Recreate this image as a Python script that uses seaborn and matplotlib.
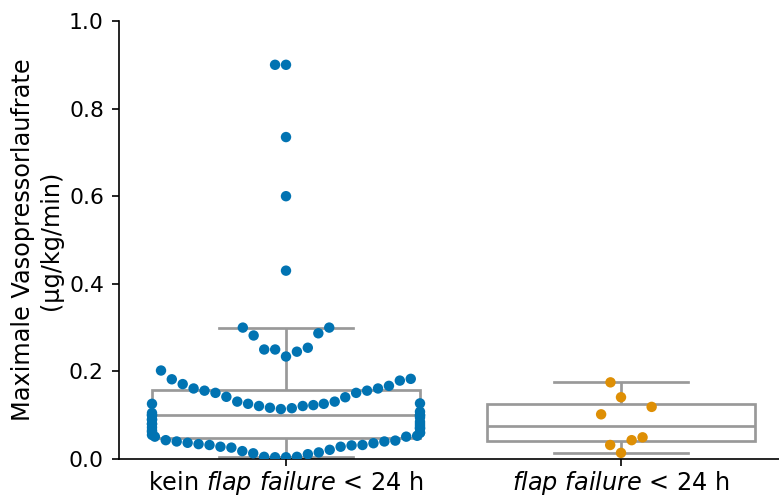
import numpy as np
import pandas as pd
import matplotlib
matplotlib.use("Agg")
import matplotlib.pyplot as plt
import seaborn as sns

# ==================================
# Data
# ==================================
groups = ["kein", "ja"]
tick_labels = [r"kein $\mathit{flap\ failure}$ < 24 h", r"$\mathit{flap\ failure}$ < 24 h"]

# max. vasopressor rate (µg/kg/min), no flap failure within 24 h
rate_no_failure = [
    0.004, 0.004, 0.005, 0.005, 0.011, 0.013, 0.015, 0.018, 0.021, 0.026,
    0.028, 0.028, 0.031, 0.032, 0.032, 0.034, 0.036, 0.037, 0.040, 0.040,
    0.042, 0.043, 0.051, 0.051, 0.053,
    0.055, 0.06, 0.06, 0.062, 0.065, 0.07, 0.07, 0.072, 0.075, 0.08, 0.08,
    0.08, 0.085, 0.09, 0.09, 0.095, 0.1, 0.1, 0.1, 0.1, 0.105, 0.108,
    0.114, 0.116, 0.117, 0.121, 0.121, 0.123, 0.126, 0.126, 0.126, 0.127,
    0.131, 0.131, 0.141, 0.142, 0.151, 0.151, 0.156, 0.156, 0.161, 0.161,
    0.167, 0.171, 0.179, 0.182, 0.183, 0.202,
    0.234, 0.245, 0.25, 0.25, 0.254, 0.282, 0.287, 0.30, 0.30,
    0.43, 0.60, 0.735, 0.90, 0.90,
]
# flap failure within 24 h
rate_failure = [0.014, 0.032, 0.043, 0.0495, 0.102, 0.119, 0.141, 0.175]

df = pd.DataFrame({
    "group": [groups[0]] * len(rate_no_failure) + [groups[1]] * len(rate_failure),
    "rate": rate_no_failure + rate_failure,
})

palette = {groups[0]: "#0173b2", groups[1]: "#de8f05"}

# ==================================
# Plot
# ==================================
fig = plt.figure(figsize=(779 / 150, 497 / 150), dpi=150)
ax = fig.add_axes([118.5 / 779, 38 / 497, 670 / 779, 438 / 497])

sns.boxplot(
    data=df, x="group", y="rate", order=groups,
    color="white", linecolor="#999999", linewidth=1.3,
    width=0.8, showfliers=False, ax=ax
)
sns.swarmplot(
    data=df, x="group", y="rate", order=groups,
    hue="group", palette=palette, legend=False,
    size=5, zorder=3, warn_thresh=1, ax=ax
)

# the original swarm was laid out on a much taller value range,
# so lay it out there once and keep those positions
ax.set_ylim(0, 5.24)
fig.canvas.draw()
for coll in ax.collections:
    if "draw" in vars(coll):
        del coll.draw

ax.set_ylim(0, 1.0)
ax.set_xlim(-0.5, 1.5)
ax.set_yticks([0.0, 0.2, 0.4, 0.6, 0.8, 1.0])
ax.set_xticks([0, 1])
ax.set_xticklabels(tick_labels, fontsize=11.5)
ax.tick_params(axis="x", pad=1.5)
ax.tick_params(axis="y", labelsize=10.5)
ax.set_xlabel("")
ax.set_ylabel("Maximale Vasopressorlaufrate\n(µg/kg/min)", fontsize=11.5, labelpad=3)
sns.despine(ax=ax)

fig.savefig("out.png", dpi=150)
